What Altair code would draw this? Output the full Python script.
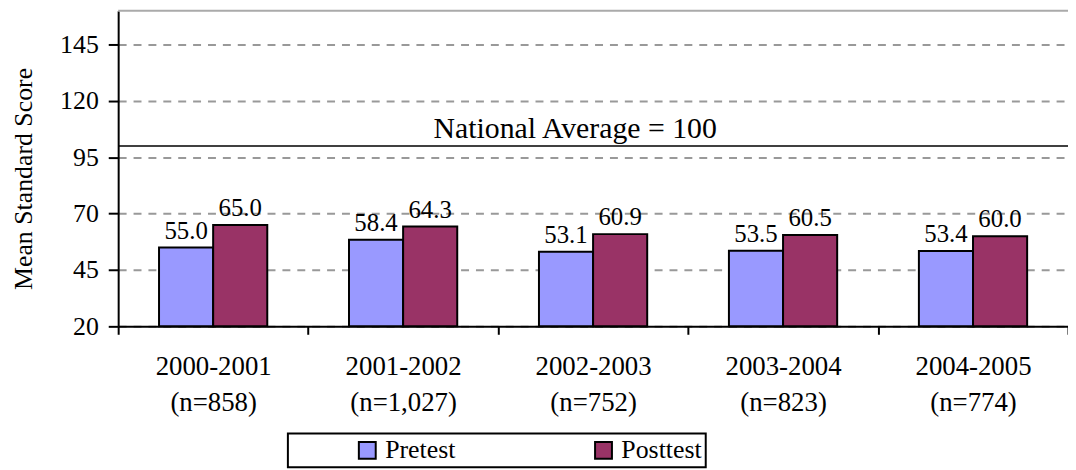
import altair as alt
import pandas as pd

years = ["2000-2001", "2001-2002", "2002-2003", "2003-2004", "2004-2005"]
ns = ["(n=858)", "(n=1,027)", "(n=752)", "(n=823)", "(n=774)"]
pretest = [55.0, 58.4, 53.1, 53.5, 53.4]
posttest = [65.0, 64.3, 60.9, 60.5, 60.0]
series = ["Pretest", "Posttest"]
colors = ["#9999FF", "#993366"]
y_ticks = [20, 45, 70, 95, 120, 145]
national_avg = 100
national_label = "National Average = 100"

cats = [f"{y} {n}" for y, n in zip(years, ns)]
rows = []
for c, a, b in zip(cats, pretest, posttest):
    rows.append({"cat": c, "test": "Pretest", "score": a})
    rows.append({"cat": c, "test": "Posttest", "score": b})
df = pd.DataFrame(rows)

FONT = "Liberation Serif"

x_enc = alt.X(
    "cat:N",
    sort=cats,
    scale=alt.Scale(paddingInner=0, paddingOuter=0),
    axis=alt.Axis(
        title=None,
        labelExpr="split(datum.label, ' ')",
        labelFont=FONT,
        labelFontSize=27,
        labelLineHeight=36,
        labelPadding=20,
        labelColor="black",
        tickBand="extent",
        tickSize=8,
        tickWidth=2,
        tickColor="black",
        domainColor="black",
        domainWidth=2,
        labelAngle=0,
        grid=False,
    ),
)
y_scale = alt.Scale(domain=[20, 160], nice=False, zero=False)
y_enc = alt.Y(
    "score:Q",
    scale=y_scale,
    axis=alt.Axis(
        title="Mean Standard Score",
        values=y_ticks,
        labelFont=FONT,
        labelFontSize=26,
        labelColor="black",
        labelPadding=10,
        tickSize=10,
        tickWidth=2,
        tickColor="black",
        domainColor="black",
        domainWidth=2,
        grid=True,
        gridColor="#999999",
        gridDash=[8, 7],
        gridWidth=2,
        titleFont=FONT,
        titleFontSize=26,
        titleFontWeight="normal",
        titleColor="black",
        titleAngle=270,
        titleX=-87,
        titleY=169,
        titleBaseline="alphabetic",
        titleAlign="center",
    ),
)

base = alt.Chart(df)

bars = base.mark_bar(stroke="black", strokeWidth=2).encode(
    x=x_enc,
    xOffset=alt.XOffset("test:N", sort=series, scale=alt.Scale(paddingInner=0, paddingOuter=0.755)),
    y=y_enc,
    y2=alt.datum(20),
    color=alt.Color(
        "test:N",
        sort=series,
        scale=alt.Scale(domain=series, range=colors),
        legend=alt.Legend(
            title=None,
            orient="none",
            direction="horizontal",
            legendX=171,
            legendY=426,
            padding=4,
            strokeColor="black",
            symbolType="square",
            symbolSize=289,
            symbolStrokeColor="black",
            symbolStrokeWidth=2,
            symbolOpacity=1,
            symbolOffset=63,
            labelFont=FONT,
            labelFontSize=26,
            labelColor="black",
            labelOffset=5,
            columnPadding=73,
            labelExpr="datum.label == 'Posttest' ? datum.label + '\u00a0\u00a0\u00a0\u00a0\u00a0\u00a0\u00a0\u00a0\u00a0' : datum.label",
        ),
    ),
)

labels = base.mark_text(font=FONT, fontSize=25, dy=-9, baseline="alphabetic", color="black").encode(
    x=alt.X("cat:N", sort=cats),
    xOffset=alt.XOffset("test:N", sort=series),
    y=alt.Y("score:Q", scale=y_scale),
    text=alt.Text("score:Q", format=".1f"),
)

top_line = alt.Chart(pd.DataFrame({"v": [160]})).mark_rule(color="#aaaaaa", strokeWidth=2).encode(
    y=alt.Y("v:Q", scale=y_scale)
)

avg_df = pd.DataFrame({"v": [national_avg], "label": [national_label], "cat": [cats[2]]})
avg_line = alt.Chart(avg_df).mark_rule(color="black", strokeWidth=1.5).encode(
    y=alt.Y("v:Q", scale=y_scale)
)
avg_text = alt.Chart(avg_df).mark_text(font=FONT, fontSize=30, dy=-8, dx=-18, baseline="alphabetic", color="black").encode(
    x=alt.X("cat:N", sort=cats),
    y=alt.Y("v:Q", scale=y_scale),
    text="label:N",
)

chart = (
    alt.layer(top_line, bars, labels, avg_line, avg_text)
    .properties(
        width=957,
        height=318,
        autosize=alt.AutoSizeParams(type="none"),
        padding={"left": 111, "top": 1, "right": 0, "bottom": 142},
    )
    .configure(font=FONT)
    .configure_view(stroke=None)
    .configure_legend(strokeWidth=2)
)

chart.save("out.html", embed_options={"renderer": "svg", "actions": False})
